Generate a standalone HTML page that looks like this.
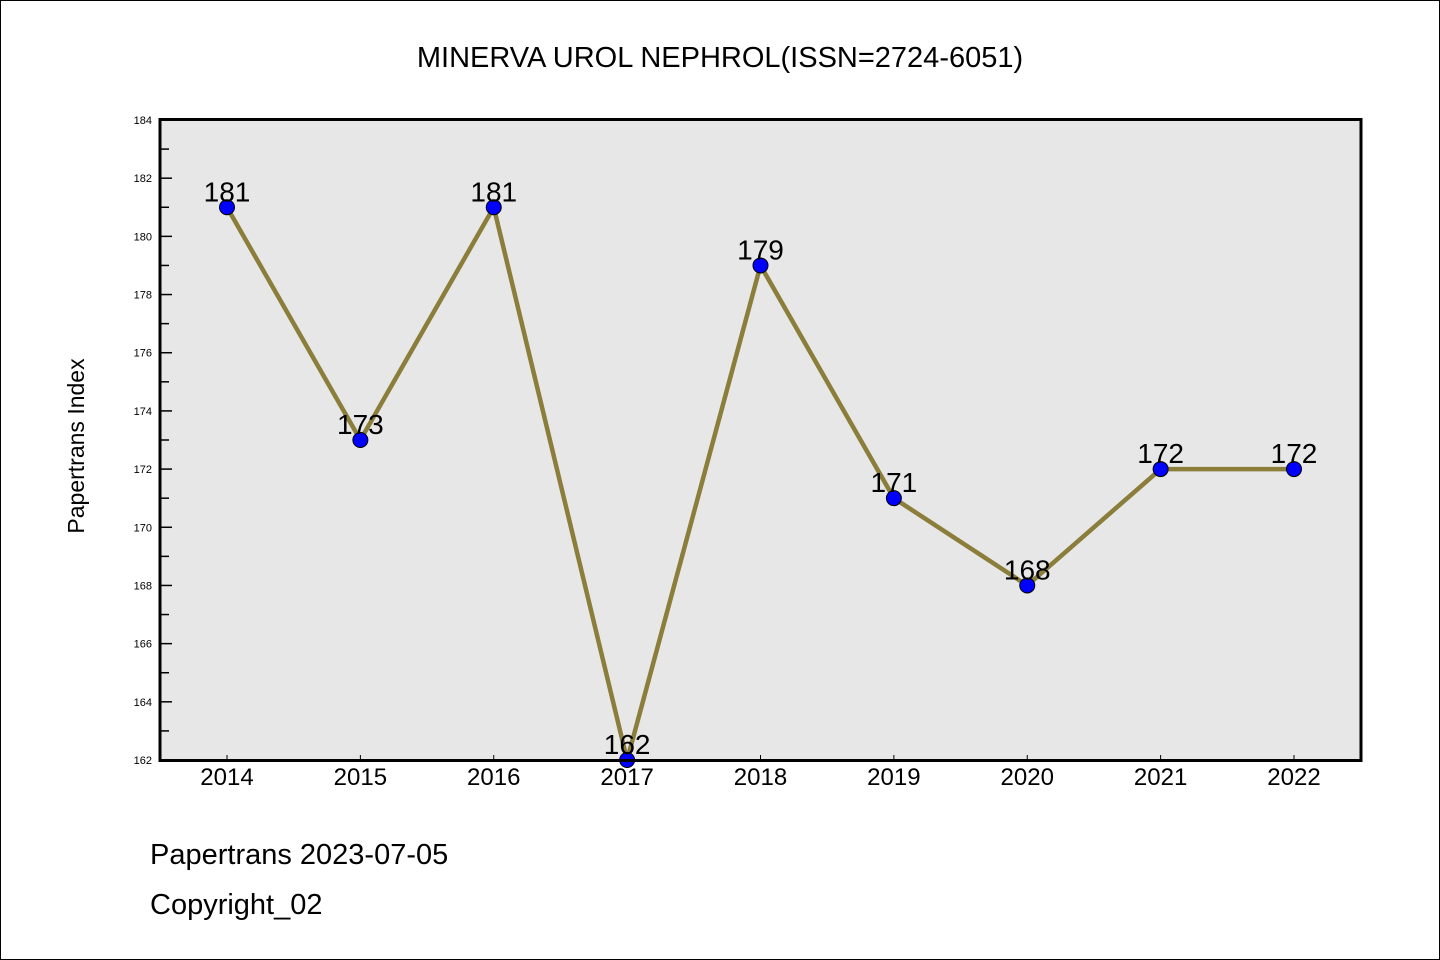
<!DOCTYPE html>
<html><head><meta charset="utf-8"><style>
html,body{margin:0;padding:0;background:#fff}
svg{display:block}
text{font-family:"WenQuanYi Zen Hei","Liberation Sans",sans-serif}
</style></head><body>
<svg id="chart" width="1440" height="960" viewBox="0 0 1440 960">
<rect x="0.5" y="0.5" width="1439" height="959" fill="#fff" stroke="#000"/>
<text x="720" y="67" text-anchor="middle" font-size="29">MINERVA UROL NEPHROL(ISSN=2724-6051)</text>
<rect x="160" y="119.5" width="1201" height="641" fill="#e7e7e7"/>
<g id="yaxis"></g>
<g id="xaxis"></g>
<g id="series"></g>
<rect x="160" y="119.5" width="1201" height="641" fill="none" stroke="#000" stroke-width="3"/>
<text transform="translate(84,446) rotate(-90)" text-anchor="middle" font-size="23">Papertrans Index</text>
<text x="150" y="864" font-size="29">Papertrans 2023-07-05</text>
<text x="150" y="914" font-size="29">Copyright_02</text>
</svg>
<script>
const years = ["2014","2015","2016","2017","2018","2019","2020","2021","2022"];
const values = [181,173,181,162,179,171,168,172,172];
const yTicks = [162,164,166,168,170,172,174,176,178,180,182,184];
const yMin=162,yMax=184;
const NS="http://www.w3.org/2000/svg";
function yS(v){return 760-(v-yMin)/(yMax-yMin)*640;}
function xS(i){return 227+i*(1294-227)/(years.length-1);}
function mk(tag,attrs,parent){const e=document.createElementNS(NS,tag);for(const k in attrs)e.setAttribute(k,attrs[k]);parent.appendChild(e);return e;}
const ya=document.getElementById('yaxis'),xa=document.getElementById('xaxis'),sg=document.getElementById('series');
yTicks.forEach((t,i)=>{
  const y=yS(t);
  const l=mk('line',{x1:160,x2:172,y1:y,y2:y,stroke:'#000','stroke-width':1.5},ya);
  
  
  const tx=mk('text',{x:152,y:y+4,'text-anchor':'end','font-size':11},ya);
  tx.textContent=t;
  
  
  if(i<yTicks.length-1){
    const ym=yS(t+1);
    const m=mk('line',{x1:160,x2:169,y1:ym,y2:ym,stroke:'#000','stroke-width':1.5},ya);
    
    
  }
});
years.forEach((yr,i)=>{
  const x=xS(i);
  const l=mk('line',{x1:x,x2:x,y1:760,y2:755,stroke:'#000','stroke-width':1},xa);
  
  
  const tx=mk('text',{x:x,y:785,'text-anchor':'middle','font-size':24},xa);
  tx.textContent=yr;
  
  
});
const pts=values.map((v,i)=>xS(i)+','+yS(v)).join(' ');
const pl=mk('polyline',{points:pts,fill:'none',stroke:'#8b7d3a','stroke-width':4.5,'stroke-linejoin':'miter'},sg);


values.forEach((v,i)=>{
  const c=mk('circle',{cx:xS(i),cy:yS(v),r:7.5,fill:'#0000ff',stroke:'#000','stroke-width':1},sg);
  
  
  const t=mk('text',{x:xS(i),y:yS(v)-6,'text-anchor':'middle','font-size':28},sg);
  t.textContent=v;
  
  
});
</script>
</body></html>
